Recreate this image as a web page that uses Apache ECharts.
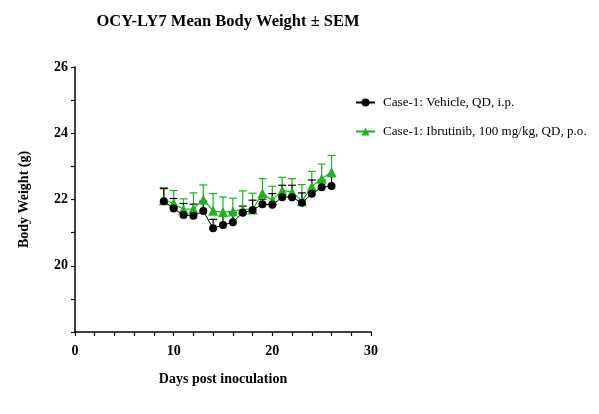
<!DOCTYPE html>
<html><head><meta charset="utf-8">
<script src="https://cdn.jsdelivr.net/npm/echarts@6/dist/echarts.min.js"></script>
<style>html,body{margin:0;padding:0;background:#fff}#c{width:599px;height:414px}</style>
</head><body><div id="c"></div>
<script>
const days = [9,10,11,12,13,14,15,16,17,18,19,20,21,22,23,24,25,26];
const vehicleMean = [21.95,21.73,21.53,21.51,21.65,21.13,21.23,21.31,21.6,21.68,21.86,21.84,22.07,22.07,21.9,22.17,22.37,22.41];
const vehicleSem  = [0.38,0.3,0.35,0.35,0.3,0.27,0.27,0.29,0.2,0.3,0.15,0.34,0.36,0.36,0.3,0.42,0.22,0.28];
const ibruMean = [21.98,21.89,21.7,21.72,22.0,21.66,21.62,21.64,21.7,21.7,22.19,21.98,22.27,22.23,21.95,22.39,22.63,22.83];
const ibruSem  = [0.38,0.38,0.32,0.48,0.44,0.52,0.46,0.4,0.56,0.49,0.44,0.42,0.4,0.4,0.5,0.46,0.44,0.5];
const xTickLabels = [0,10,20,30];
const yTickLabels = [20,22,24,26];
const names = ['Case-1: Vehicle, QD, i.p.','Case-1: Ibrutinib, 100 mg/kg, QD, p.o.'];

const FONT = '"Liberation Serif", "Times New Roman", serif';
const BLACK = '#000000', GREEN = '#1db31d';

function errData(mean, sem){ return days.map((d,i)=>[d, mean[i], mean[i]+sem[i]]); }
function errSeries(mean, sem, color, id){
  return {
    type:'custom', name:id, data: errData(mean, sem), z: 2, silent:true,
    encode:{x:0,y:[1,2]},
    renderItem(params, api){
      const x = api.value(0);
      const p0 = api.coord([x, api.value(1)]);
      const p1 = api.coord([x, api.value(2)]);
      const hw = 4;
      return {type:'group', children:[
        {type:'line', shape:{x1:p0[0],y1:p0[1],x2:p1[0],y2:p1[1]}, style:{stroke:color,lineWidth:1.2}},
        {type:'line', shape:{x1:p1[0]-hw,y1:p1[1],x2:p1[0]+hw,y2:p1[1]}, style:{stroke:color,lineWidth:1.2}}
      ]};
    }
  };
}

const chart = echarts.init(document.getElementById('c'));
chart.setOption({
  animation:false,
  backgroundColor:'#fff',
  title:{ text:'OCY-LY7 Mean Body Weight ± SEM', left:223, textAlign:'center', top:8,
    textStyle:{fontFamily:FONT, fontSize:16.5, fontWeight:'bold', color:'#000'} },
  legend:{ orient:'vertical', left:350, top:91, itemGap:16, itemWidth:19, itemHeight:10,
    data: names,
    textStyle:{fontFamily:FONT, fontSize:13.1, color:'#000', padding:[0,0,0,3]} },
  grid:{ left:75, right:228, top:67, bottom:82, containLabel:false },
  xAxis:{ type:'value', min:0, max:30, interval:2,
    name:'Days post inoculation', nameLocation:'middle', nameGap:40,
    nameTextStyle:{fontFamily:FONT, fontSize:14, fontWeight:'bold', color:'#000'},
    axisLine:{lineStyle:{color:'#000', width:1.5}},
    axisTick:{length:4, lineStyle:{color:'#000', width:1.2}},
    splitLine:{show:false},
    axisLabel:{ fontFamily:FONT, fontSize:14, fontWeight:'bold', color:'#000', margin:12,
      formatter:v=> xTickLabels.includes(v) ? String(v) : '' } },
  yAxis:{ type:'value', min:18, max:26, interval:1,
    name:'Body Weight (g)', nameLocation:'middle', nameGap:44, nameRotate:90,
    nameTextStyle:{fontFamily:FONT, fontSize:14, fontWeight:'bold', color:'#000'},
    axisLine:{show:true, lineStyle:{color:'#000', width:1.5}},
    axisTick:{show:true, length:4, lineStyle:{color:'#000', width:1.2}},
    splitLine:{show:false},
    axisLabel:{ fontFamily:FONT, fontSize:14, fontWeight:'bold', color:'#000', margin:7,
      formatter:v=> yTickLabels.includes(v) ? String(v) : '' } },
  series:[
    errSeries(ibruMean, ibruSem, GREEN, 'err-ibru'),
    { type:'line', name:names[1], data: days.map((d,i)=>[d, ibruMean[i]]), z:3,
      symbol:'triangle', symbolSize:10, itemStyle:{color:GREEN},
      lineStyle:{color:GREEN, width:1.2} },
    errSeries(vehicleMean, vehicleSem, BLACK, 'err-veh'),
    { type:'line', name:names[0], data: days.map((d,i)=>[d, vehicleMean[i]]), z:4,
      symbol:'circle', symbolSize:8, itemStyle:{color:BLACK},
      lineStyle:{color:BLACK, width:1} }
  ]
});
</script></body></html>
